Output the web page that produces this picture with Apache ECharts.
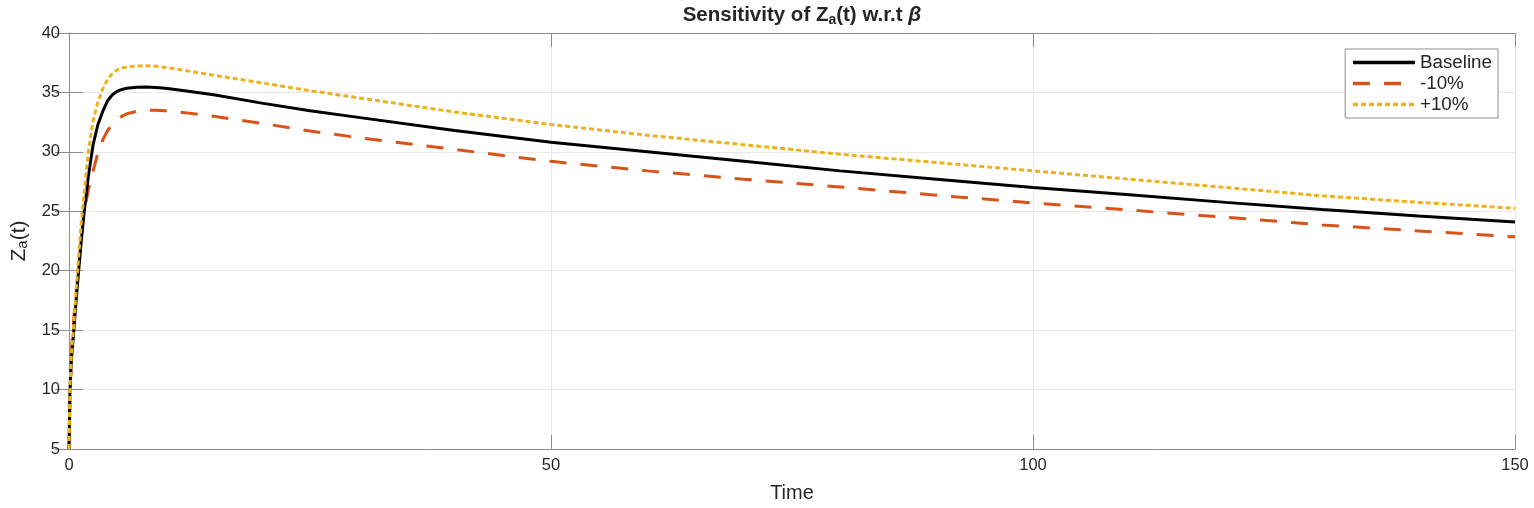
<!DOCTYPE html>
<html>
<head>
<meta charset="utf-8">
<script src="https://cdn.jsdelivr.net/npm/echarts@6/dist/echarts.min.js"></script>
<style>
  html, body { margin: 0; padding: 0; background: #fff; }
  #chart { width: 1534px; height: 508px; }
</style>
</head>
<body>
<div id="chart"></div>
<script>
// time samples shared by all three curves
const timePoints = [0, 0.1, 0.25, 0.5, 0.75, 1, 1.25, 1.5, 2, 2.5, 3, 3.5, 4, 4.5, 5, 5.5, 6, 7, 8, 9, 10, 12, 15, 20, 25, 30, 40, 50, 60, 70, 80, 90, 100, 110, 120, 130, 140, 150];

const baseline = [5, 10, 12.5, 15, 17.6, 20, 22.3, 24.4, 27.9, 30.6, 32.3, 33.4, 34.3, 34.8, 35.1, 35.25, 35.35, 35.43, 35.45, 35.42, 35.35, 35.15, 34.8, 34.1, 33.45, 32.9, 31.8, 30.8, 30.0, 29.2, 28.4, 27.7, 27.0, 26.4, 25.75, 25.15, 24.6, 24.1];
const minus10 = [5, 9, 13.3, 16.1, 18.2, 20.2, 22.4, 24.5, 26.8, 28.4, 29.9, 31.0, 31.8, 32.3, 32.7, 33.0, 33.2, 33.4, 33.5, 33.5, 33.45, 33.3, 33.0, 32.4, 31.75, 31.2, 30.2, 29.2, 28.4, 27.7, 27.05, 26.35, 25.7, 25.1, 24.5, 23.85, 23.35, 22.85];
const plus10 = [5, 10.2, 13, 15.5, 18.5, 21.2, 23.8, 26, 30, 32.6, 34.2, 35.3, 36.1, 36.6, 36.9, 37.05, 37.15, 37.22, 37.25, 37.2, 37.1, 36.85, 36.45, 35.8, 35.15, 34.55, 33.35, 32.3, 31.4, 30.6, 29.8, 29.1, 28.4, 27.7, 27.0, 26.3, 25.75, 25.25];

const xTicks = { min: 0, max: 150, interval: 50 };
const yTicks = { min: 5, max: 40, interval: 5 };

const axisGray = '#8c8c8c';
const textDark = '#262626';
const font = 'Arial';

const pairs = (ys) => timePoints.map((t, i) => [t, ys[i]]);

const chart = echarts.init(document.getElementById('chart'));

const mainAxisX = {
  type: 'value', ...xTicks, position: 'bottom',
  name: 'Time', nameLocation: 'middle', nameGap: 34,
  nameTextStyle: { fontFamily: font, fontSize: 20, color: textDark },
  axisLine: { show: true, lineStyle: { color: axisGray } },
  axisTick: { show: true, inside: true, length: 14, lineStyle: { color: axisGray } },
  axisLabel: { fontFamily: font, fontSize: 16.5, color: textDark, margin: 8 },
  splitLine: { show: true, lineStyle: { color: '#e8e8e8' } }
};
const mainAxisY = {
  type: 'value', ...yTicks, position: 'left',
  name: '{n|Z}{s|a}{n|(t)}', nameLocation: 'middle', nameGap: 38, nameRotate: 90,
  nameTextStyle: {
    rich: {
      n: { fontFamily: font, fontSize: 21, color: textDark },
      s: { fontFamily: font, fontSize: 15, color: textDark, padding: [9, 0, 0, 0] }
    }
  },
  axisLine: { show: true, lineStyle: { color: axisGray } },
  axisTick: { show: true, inside: true, length: 14, lineStyle: { color: axisGray } },
  axisLabel: { fontFamily: font, fontSize: 16.5, color: textDark, margin: 9 },
  splitLine: { show: true, lineStyle: { color: '#e8e8e8' } }
};
const mirrorX = {
  type: 'value', ...xTicks, position: 'top',
  axisLine: { show: true, lineStyle: { color: axisGray } },
  axisTick: { show: true, inside: true, length: 14, lineStyle: { color: axisGray } },
  axisLabel: { show: false }, splitLine: { show: false }
};
const mirrorY = {
  type: 'value', ...yTicks, position: 'right',
  axisLine: { show: true, lineStyle: { color: axisGray } },
  axisTick: { show: true, inside: true, length: 14, lineStyle: { color: axisGray } },
  axisLabel: { show: false }, splitLine: { show: false }
};

chart.setOption({
  animation: false,
  backgroundColor: '#ffffff',
  title: {
    text: '{b|Sensitivity of Z}{s|a}{b|(t) w.r.t }{g|β}',
    left: 797, top: -2, textAlign: 'center',
    textStyle: {
      rich: {
        b: { fontFamily: font, fontSize: 20.5, fontWeight: 'bold', color: textDark },
        s: { fontFamily: font, fontSize: 14, fontWeight: 'bold', color: textDark, padding: [10, 0, 0, 0] },
        g: { fontFamily: font, fontSize: 21, fontWeight: 'bold', fontStyle: 'italic', color: textDark }
      }
    }
  },
  legend: {
    orient: 'vertical', right: 36, top: 49,
    itemWidth: 62, itemHeight: 16, itemGap: 2,
    padding: [4, 6, 4, 6],
    backgroundColor: '#fff',
    borderColor: axisGray, borderWidth: 1,
    itemStyle: { opacity: 0 },
    lineStyle: { width: 3.5 },
    textStyle: { fontFamily: font, fontSize: 18.8, color: textDark },
    data: ['Baseline', '-10%', '+10%']
  },
  grid: { left: 69, right: 19, top: 33, bottom: 55, show: false },
  xAxis: [mainAxisX, mirrorX],
  yAxis: [mainAxisY, mirrorY],
  series: [
    {
      name: 'Baseline', type: 'line', data: pairs(baseline), symbol: 'none',
      lineStyle: { color: '#000000', width: 3 }, itemStyle: { color: '#000000' }, z: 3
    },
    {
      name: '-10%', type: 'line', data: pairs(minus10), symbol: 'none',
      lineStyle: { color: '#D95319', width: 3, type: [17, 14] }, itemStyle: { color: '#D95319' }, z: 2
    },
    {
      name: '+10%', type: 'line', data: pairs(plus10), symbol: 'none',
      lineStyle: { color: '#EDB120', width: 3, type: [5, 3] }, itemStyle: { color: '#EDB120' }, z: 4
    }
  ]
});

window.addEventListener('resize', () => {
  chart.resize();
});
</script>
</body>
</html>
